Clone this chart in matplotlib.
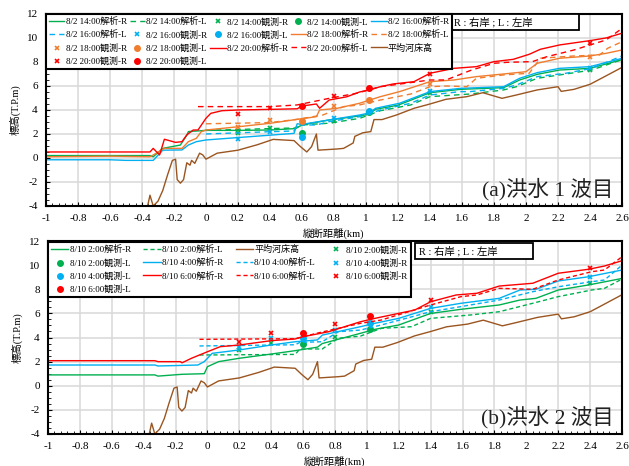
import matplotlib
matplotlib.use("Agg")
import matplotlib.pyplot as plt
from matplotlib.patches import Rectangle
from matplotlib.ticker import MultipleLocator

plt.rcParams['font.family'] = ['Liberation Serif', 'Noto Sans CJK JP']
plt.rcParams['axes.unicode_minus'] = False

# ---- colours ----
GREEN = '#00B050'
BLUE = '#00B0F0'
ORANGE = '#F07D2E'
RED = '#FF0000'
BROWN = '#9A5520'

# ---- bed profile (平均河床高), same in both panels ----
bed_x = [-0.37, -0.35, -0.33, -0.30, -0.27, -0.24, -0.21, -0.19, -0.18, -0.16, -0.14, -0.12, -0.10,
         -0.09, -0.07, -0.04, -0.02, 0.0, 0.07, 0.2, 0.32, 0.42, 0.55, 0.59, 0.63, 0.66, 0.69, 0.70,
         0.82, 0.86, 0.92, 0.93, 0.98, 1.03, 1.05, 1.10, 1.19, 1.30, 1.40, 1.50, 1.63, 1.73, 1.85,
         1.94, 2.07, 2.20, 2.22, 2.30, 2.40, 2.46, 2.60]
bed_y = [-4.3, -3.1, -4.0, -3.6, -2.7, -1.4, -0.2, -0.1, -1.8, -2.1, -1.8, -0.4, -0.6,
         -0.2, -0.45, 0.4, 0.25, -0.1, 0.4, 0.65, 1.1, 1.55, 1.45, 0.95, 0.5, 0.95, 2.0, 0.65,
         0.75, 0.8, 1.25, 1.8, 2.1, 2.2, 3.2, 3.2, 3.58, 4.14, 4.5, 4.89, 5.11, 5.44, 4.97,
         5.25, 5.67, 5.94, 5.55, 5.72, 6.14, 6.56, 7.55]

# ---- (a) flood wave 1 ----
a14R_x = [-1, -0.6, -0.35, -0.33, -0.27, -0.16, -0.12, -0.11, 0.0, 0.2, 0.4, 0.56, 0.6, 0.77, 0.96,
          1.02, 1.06, 1.2, 1.4, 1.59, 1.86, 1.96, 2.07, 2.21, 2.4, 2.6]
a14R_y = [0.2, 0.2, 0.2, 0.1, 0.8, 1.08, 1.9, 2.2, 2.3, 2.3, 2.33, 2.45, 2.75, 3.17, 3.5,
          3.65, 4.06, 4.4, 5.44, 5.72, 5.86, 6.5, 6.97, 7.33, 7.47, 8.2]
a14L_x = [0.0, 0.4, 0.56, 0.6, 0.77, 0.96, 1.09, 1.28, 1.4, 1.65, 1.86, 1.94, 2.07, 2.25, 2.41, 2.6]
a14L_y = [2.3, 2.45, 2.5, 2.75, 2.9, 3.3, 3.94, 4.42, 5.11, 5.33, 5.67, 5.94, 6.64, 7.0, 7.33, 8.2]
a16R_x = [-1, -0.6, -0.5, -0.35, -0.33, -0.27, -0.15, -0.11, -0.06, 0.0, 0.2, 0.4, 0.55, 0.57, 0.6,
          0.77, 0.96, 1.02, 1.06, 1.21, 1.4, 1.59, 1.86, 1.96, 2.07, 2.21, 2.4, 2.6]
a16R_y = [-0.15, -0.15, -0.2, -0.2, -0.2, 0.65, 0.67, 1.08, 1.36, 1.5, 1.7, 1.9, 2.05, 2.85, 2.8,
          3.17, 3.58, 3.75, 4.14, 4.56, 5.53, 5.8, 5.94, 6.64, 7.11, 7.47, 7.61, 8.3]
a16L_x = [0.0, 0.4, 0.55, 0.57, 0.69, 0.77, 0.96, 1.09, 1.28, 1.4, 1.59, 1.65, 1.86, 1.94, 2.07,
          2.25, 2.41, 2.6]
a16L_y = [2.0, 2.19, 2.25, 2.75, 2.75, 3.03, 3.44, 4.0, 4.56, 5.25, 5.53, 5.53, 5.8, 6.08, 6.78,
          7.06, 7.47, 8.5]
a18R_x = [-1, -0.6, -0.35, -0.33, -0.26, -0.15, -0.11, -0.06, -0.03, 0.0, 0.2, 0.4, 0.57, 0.69, 0.71,
          0.82, 0.96, 1.09, 1.21, 1.4, 1.55, 1.69, 1.86, 2.0, 2.07, 2.21, 2.4, 2.5, 2.6]
a18R_y = [0.1, 0.15, 0.1, 0.25, 0.8, 0.8, 1.36, 1.64, 2.19, 2.33, 2.6, 2.89, 3.22, 3.44, 4.0,
          4.14, 4.56, 5.11, 5.53, 6.36, 6.5, 6.78, 7.0, 7.19, 7.89, 8.31, 8.5, 8.72, 9.0]
a18L_x = [0.0, 0.4, 0.57, 0.73, 0.86, 0.96, 1.09, 1.28, 1.4, 1.5, 1.63, 1.69, 1.86, 2.02, 2.09,
          2.3, 2.46, 2.51, 2.6]
a18L_y = [2.85, 2.95, 3.22, 3.58, 4.28, 4.42, 4.83, 5.33, 5.94, 6.0, 5.94, 6.64, 6.92, 7.06, 8.31,
          8.5, 8.58, 9.14, 9.69]
a20R_x = [-1, -0.35, -0.33, -0.29, -0.26, -0.19, -0.15, -0.12, -0.08, -0.05, 0.0, 0.03, 0.1, 0.2,
          0.4, 0.57, 0.6, 0.69, 0.71, 0.77, 0.88, 0.96, 1.02, 1.09, 1.17, 1.3, 1.4, 1.55, 1.69,
          1.8, 1.92, 2.02, 2.09, 2.21, 2.4, 2.5, 2.6]
a20R_y = [0.5, 0.5, 0.8, 0.25, 1.56, 1.3, 1.36, 1.92, 2.33, 2.33, 3.31, 3.72, 3.94, 4.0,
          4.05, 4.1, 4.33, 4.5, 4.14, 4.83, 5.1, 5.5, 5.67, 5.94, 6.17, 6.36, 7.06, 7.47, 7.61,
          8.03, 8.22, 8.64, 9.06, 9.42, 9.78, 10.0, 10.4]
a20L_x = [-0.05, 0.4, 0.57, 0.77, 0.94, 1.09, 1.4, 1.5, 1.66, 1.8, 1.88, 2.04, 2.13, 2.3, 2.4,
          2.5, 2.6]
a20L_y = [4.28, 4.28, 4.42, 4.97, 5.39, 5.94, 6.5, 6.5, 7.33, 7.89, 7.97, 8.03, 8.44, 9.0, 9.42,
          9.83, 10.8]

obsR_x = [0.2, 0.4, 0.8, 1.4, 2.4]
obsL_x = [0.6, 1.02]
a14obsR = [2.1, 2.5, 3.1, 5.4, 7.3]
a14obsL = [2.1, 3.8]
a16obsR = [1.6, 2.2, 3.3, 5.6, 7.5]
a16obsL = [1.75, 3.9]
a18obsR = [2.6, 3.2, 4.3, 6.2, 8.4]
a18obsL = [3.1, 4.8]
a20obsR = [3.65, 4.2, 5.2, 7.0, 9.6]
a20obsL = [4.3, 5.8]

# ---- (b) flood wave 2 ----
b2R_x = [-1, -0.33, -0.31, -0.16, -0.02, 0.0, 0.07, 0.2, 0.4, 0.55, 0.69, 0.72, 0.96, 1.05, 1.2,
         1.4, 1.59, 1.83, 1.96, 2.06, 2.2, 2.39, 2.6]
b2R_y = [0.9, 0.9, 0.8, 0.95, 1.0, 1.58, 2.0, 2.28, 2.63, 2.91, 3.2, 3.5, 4.35, 4.68, 5.04,
         6.0, 6.34, 6.7, 7.11, 7.25, 7.94, 8.36, 8.9]
b2L_x = [-0.05, 0.55, 0.58, 0.72, 0.82, 0.96, 1.09, 1.28, 1.4, 1.65, 1.83, 2.04, 2.2, 2.41, 2.49, 2.6]
b2L_y = [2.55, 2.6, 3.05, 3.05, 3.94, 4.12, 4.76, 4.9, 5.59, 5.87, 6.14, 6.84, 7.39, 7.94, 8.08, 8.85]
b4R_x = [-1, -0.33, -0.31, -0.06, -0.02, 0.03, 0.2, 0.4, 0.55, 0.69, 0.72, 0.96, 1.05, 1.2, 1.4,
         1.59, 1.83, 1.96, 2.06, 2.2, 2.39, 2.6]
b4R_y = [1.72, 1.72, 1.64, 1.72, 2.0, 2.69, 2.97, 3.38, 3.65, 3.8, 4.2, 4.9, 5.18, 5.59, 6.42,
         6.84, 7.25, 7.94, 8.0, 8.69, 9.04, 9.6]
b4L_x = [-0.05, 0.55, 0.58, 0.72, 0.82, 0.96, 1.09, 1.4, 1.65, 1.83, 2.04, 2.2, 2.41, 2.49, 2.6]
b4L_y = [3.3, 3.4, 3.6, 3.65, 4.48, 4.62, 5.04, 6.14, 6.7, 7.11, 7.8, 8.21, 8.63, 8.77, 10.0]
b6R_x = [-1, -0.33, -0.31, -0.17, -0.16, -0.1, 0.0, 0.08, 0.2, 0.4, 0.55, 0.6, 0.76, 0.96, 1.05,
         1.3, 1.4, 1.56, 1.69, 1.83, 2.04, 2.2, 2.39, 2.49, 2.6]
b6R_y = [2.08, 2.08, 2.0, 2.0, 1.9, 2.28, 2.82, 3.24, 3.38, 3.74, 3.88, 4.07, 4.48, 5.31, 5.59,
         6.28, 6.97, 7.53, 7.67, 8.27, 8.5, 9.33, 9.66, 9.93, 10.37]
b6L_x = [-0.05, 0.55, 0.7, 0.96, 1.09, 1.4, 1.59, 1.69, 1.83, 2.04, 2.2, 2.41, 2.49, 2.6]
b6L_y = [3.85, 3.9, 4.4, 5.18, 5.45, 6.7, 7.39, 7.53, 8.08, 8.0, 8.77, 9.46, 9.6, 10.7]

b2obsR = [2.97, 3.57, 4.02, 6.14, 8.55]
b2obsL = [3.46, 4.7]
b4obsR = [3.19, 3.94, 4.62, 6.53, 9.04]
b4obsL = [3.94, 5.18]
b6obsR = [3.6, 4.35, 5.1, 7.11, 9.74]
b6obsL = [4.4, 5.78]

DASH = (0, (4, 3))
LW = 1.0


def col_order(n, ncol):
    # matplotlib fills legends column by column; return order that reads row by row
    nrows, nlarge = divmod(n, ncol)
    sizes = [nrows + 1] * nlarge + [nrows] * (ncol - nlarge)
    order = []
    for c in range(ncol):
        for r in range(sizes[c]):
            order.append(r * ncol + c)
    return order


def fmt(v, pos):
    v = round(v, 3)
    if v == 0:
        return '0'
    return f"{v:g}"


def style_axes(ax, label_text):
    ax.set_xlim(-1, 2.6)
    ax.set_ylim(-4, 12)
    ax.xaxis.set_major_locator(MultipleLocator(0.2))
    ax.yaxis.set_major_locator(MultipleLocator(2))
    ax.xaxis.set_minor_locator(MultipleLocator(0.04))
    ax.yaxis.set_minor_locator(MultipleLocator(0.5))
    ax.xaxis.set_major_formatter(plt.FuncFormatter(fmt))
    ax.yaxis.set_major_formatter(plt.FuncFormatter(fmt))
    ax.grid(True, which='major', color='#d9d9d9', linewidth=1.1)
    ax.set_axisbelow(True)
    ax.tick_params(which='both', direction='in', labelsize=8, pad=6)
    ax.tick_params(which='major', length=3)
    ax.tick_params(which='minor', length=2)
    for s in ax.spines.values():
        s.set_linewidth(1.5)
        s.set_color('black')
    ax.set_xlabel('縦断距離(km)', fontsize=7.5, labelpad=3)
    ax.set_ylabel('標高(T.P.m)', fontsize=7.5, labelpad=4)
    ax.text(0.985, 0.03, label_text, transform=ax.transAxes, ha='right', va='bottom',
            fontsize=15.5, color='#222222')


def note_box(ax, x0, y0, w, h):
    ax.add_patch(Rectangle((x0, y0), w, h, transform=ax.transAxes, facecolor='white',
                           edgecolor='black', linewidth=1.3, zorder=5))
    ax.text(x0 + 0.008, y0 + h / 2, 'R : 右岸 ; L : 左岸', transform=ax.transAxes,
            ha='left', va='center', fontsize=7.5, zorder=6)


fig = plt.figure(figsize=(6.29, 4.66), dpi=100)
ax1 = fig.add_axes([0.0731, 0.558, 0.9158, 0.412])
ax2 = fig.add_axes([0.0763, 0.0687, 0.9126, 0.414])

# ---- panel (a) ----
h = []
h.append(ax1.plot(a14R_x, a14R_y, color=GREEN, lw=LW, label='8/2 14:00解析-R')[0])
h.append(ax1.plot(a14L_x, a14L_y, color=GREEN, lw=LW, ls=DASH, label='8/2 14:00解析-L')[0])
h.append(ax1.plot(obsR_x, a14obsR, 'x', color=GREEN, ms=3.5, mew=1.2, label='8/2 14:00観測-R')[0])
h.append(ax1.plot(obsL_x, a14obsL, 'o', color=GREEN, ms=4, label='8/2 14:00観測-L')[0])
h.append(ax1.plot(a16R_x, a16R_y, color=BLUE, lw=LW, label='8/2 16:00解析-R')[0])
h.append(ax1.plot(a16L_x, a16L_y, color=BLUE, lw=LW, ls=DASH, label='8/2 16:00解析-L')[0])
h.append(ax1.plot(obsR_x, a16obsR, 'x', color=BLUE, ms=3.5, mew=1.2, label='8/2 16:00観測-R')[0])
h.append(ax1.plot(obsL_x, a16obsL, 'o', color=BLUE, ms=4, label='8/2 16:00観測-L')[0])
h.append(ax1.plot(a18R_x, a18R_y, color=ORANGE, lw=LW, label='8/2 18:00解析-R')[0])
h.append(ax1.plot(a18L_x, a18L_y, color=ORANGE, lw=LW, ls=DASH, label='8/2 18:00解析-L')[0])
h.append(ax1.plot(obsR_x, a18obsR, 'x', color=ORANGE, ms=3.5, mew=1.2, label='8/2 18:00観測-R')[0])
h.append(ax1.plot(obsL_x, a18obsL, 'o', color=ORANGE, ms=4, label='8/2 18:00観測-L')[0])
h.append(ax1.plot(a20R_x, a20R_y, color=RED, lw=LW, label='8/2 20:00解析-R')[0])
h.append(ax1.plot(a20L_x, a20L_y, color=RED, lw=LW, ls=DASH, label='8/2 20:00解析-L')[0])
h.append(ax1.plot(bed_x, bed_y, color=BROWN, lw=LW, label='平均河床高')[0])
h.append(ax1.plot(obsR_x, a20obsR, 'x', color=RED, ms=3.5, mew=1.2, label='8/2 20:00観測-R')[0])
h.append(ax1.plot(obsL_x, a20obsL, 'o', color=RED, ms=4, label='8/2 20:00観測-L')[0])

style_axes(ax1, '(a)洪水 1 波目')
order = col_order(len(h), 5)
leg1 = ax1.legend([h[i] for i in order], [h[i].get_label() for i in order], ncol=5,
                  loc='upper left', bbox_to_anchor=(0, 1), borderaxespad=0,
                  fontsize=6.5, handlelength=1.7, handletextpad=0.15,
                  labelspacing=0.45, borderpad=0.35, columnspacing=0.3, fancybox=False,
                  framealpha=1, edgecolor='black')
leg1.get_frame().set_linewidth(1.5)
note_box(ax1, 0.701, 0.917, 0.224, 0.083)

# ---- panel (b) ----
g = []
g.append(ax2.plot(b2R_x, b2R_y, color=GREEN, lw=LW, label='8/10 2:00解析-R')[0])
g.append(ax2.plot(b2L_x, b2L_y, color=GREEN, lw=LW, ls=(0, (3, 2)), label='8/10 2:00解析-L')[0])
g.append(ax2.plot(bed_x, bed_y, color=BROWN, lw=LW, label='平均河床高')[0])
g.append(ax2.plot(obsR_x, b2obsR, 'x', color=GREEN, ms=3.5, mew=1.2, label='8/10 2:00観測-R')[0])
g.append(ax2.plot(obsL_x, b2obsL, 'o', color=GREEN, ms=4, label='8/10 2:00観測-L')[0])
g.append(ax2.plot(b4R_x, b4R_y, color=BLUE, lw=LW, label='8/10 4:00解析-R')[0])
g.append(ax2.plot(b4L_x, b4L_y, color=BLUE, lw=LW, ls=(0, (3, 2)), label='8/10 4:00解析-L')[0])
g.append(ax2.plot(obsR_x, b4obsR, 'x', color=BLUE, ms=3.5, mew=1.2, label='8/10 4:00観測-R')[0])
g.append(ax2.plot(obsL_x, b4obsL, 'o', color=BLUE, ms=4, label='8/10 4:00観測-L')[0])
g.append(ax2.plot(b6R_x, b6R_y, color=RED, lw=LW, label='8/10 6:00解析-R')[0])
g.append(ax2.plot(b6L_x, b6L_y, color=RED, lw=LW, ls=(0, (3, 2)), label='8/10 6:00解析-L')[0])
g.append(ax2.plot(obsR_x, b6obsR, 'x', color=RED, ms=3.5, mew=1.2, label='8/10 6:00観測-R')[0])
g.append(ax2.plot(obsL_x, b6obsL, 'o', color=RED, ms=4, label='8/10 6:00観測-L')[0])

style_axes(ax2, '(b)洪水 2 波目')
order = col_order(len(g), 4)
leg2 = ax2.legend([g[i] for i in order], [g[i].get_label() for i in order], ncol=4,
                  loc='upper left', bbox_to_anchor=(0, 0.995), borderaxespad=0,
                  fontsize=6.5, handlelength=1.9, handletextpad=0.15,
                  labelspacing=0.45, borderpad=0.35, columnspacing=1.4, fancybox=False,
                  framealpha=1, edgecolor='black')
leg2.get_frame().set_linewidth(1.5)
note_box(ax2, 0.639, 0.907, 0.206, 0.083)

fig.savefig('out.png', dpi=100)
